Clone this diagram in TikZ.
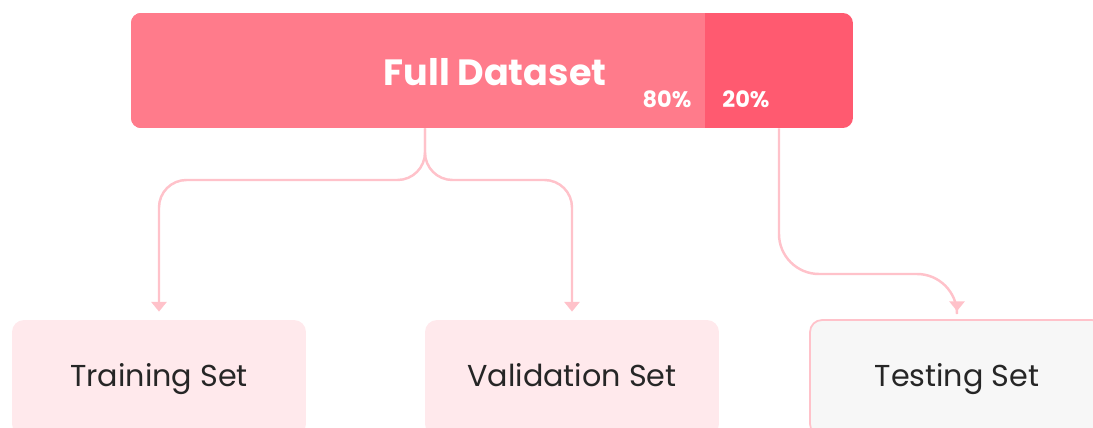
\documentclass[tikz,border=0pt]{standalone}
\usepackage{fontspec}
\setmainfont{Poppins}
\usetikzlibrary{arrows.meta,positioning,calc}
\definecolor{SplitPink}{HTML}{FF7B8B}
\definecolor{SplitRed}{HTML}{FF5A70}
\definecolor{SplitLine}{HTML}{FFC2CA}
\definecolor{SplitBox}{HTML}{FFE9EC}
\definecolor{SplitGray}{HTML}{F7F7F7}
\definecolor{SplitText}{HTML}{262626}

\begin{document}
\begin{tikzpicture}[x=0.02cm,y=-0.02cm,
    bar/.style={rounded corners=0.2cm,fill=SplitRed,minimum width=14.44cm,minimum height=2.3cm,inner sep=0pt},
    subset/.style={rounded corners=0.24cm,fill=SplitBox,minimum width=5.88cm,minimum height=2.32cm,text height=2.2ex,text depth=0.45ex,font=\fontsize{17.2}{20}\selectfont,text=SplitText},
    pct/.style={font=\bfseries\fontsize{12.8}{14}\selectfont,text=white,inner sep=0pt},
    conn/.style={-{Triangle[width=8.5pt,length=5.5pt]},line width=1.4pt,SplitLine,rounded corners=0.55cm,shorten >=0.16cm}
  ]
    \useasboundingbox (0,0) rectangle (1093,428);
    \clip (0,0) rectangle (1093,428);
    \node[bar,path picture={\fill[SplitPink,sharp corners] (path picture bounding box.north west) rectangle ([xshift=11.48cm]path picture bounding box.south west);}] (full) at (492,70.5) {};
    \node[font=\bfseries\fontsize{20.8}{24}\selectfont,text=white] (fulltxt) at (495,72) {Full Dataset};
    \node[pct] (p80) at (667,99) {80\%};
    \node[pct] (p20) at (746,99) {20\%};
    \node[subset] (train) at (159,378) {Training Set};
    \node[subset] (valid) at (572,378) {Validation Set};
    \node[subset,fill=SplitGray,draw=SplitLine,line width=1pt] (test) at (957,378) {Testing Set};
    \coordinate (fork) at (425,180);
    \coordinate (tbend) at (779,274);
    \draw[conn] (full.south -| fork) -- (fork) -| (train);
    \draw[conn] (full.south -| fork) -- (fork) -| (valid);
    \draw[conn,rounded corners=0.8cm] (full.south -| tbend) -- (tbend) -| (test);
  \end{tikzpicture}
\end{document}
